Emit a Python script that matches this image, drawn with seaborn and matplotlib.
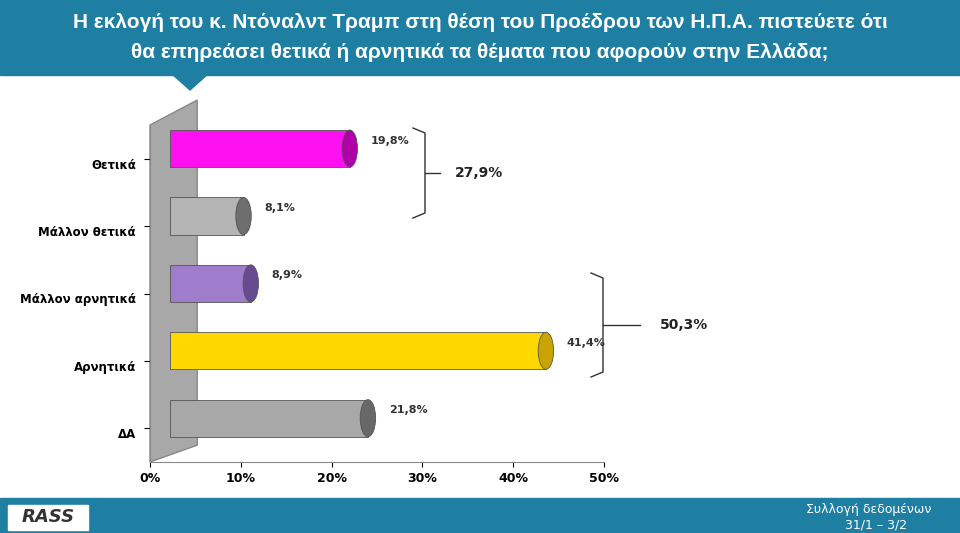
import matplotlib
matplotlib.use("Agg")
import matplotlib.pyplot as plt
import seaborn as sns
import pandas as pd
from matplotlib.patches import Polygon, Ellipse, Rectangle
from matplotlib.lines import Line2D

categories = ["Θετικά", "Μάλλον θετικά", "Μάλλον αρνητικά", "Αρνητικά", "ΔΑ"]
values = [19.8, 8.1, 8.9, 41.4, 21.8]
colors = ["#ff10f0", "#b4b4b4", "#a07ccc", "#ffd800", "#a8a8a8"]
cap_colors = ["#b000a8", "#6e6e6e", "#674a90", "#c9a400", "#686868"]
ticks = [0, 10, 20, 30, 40, 50]
tick_labels = ["0%", "10%", "20%", "30%", "40%", "50%"]
groups = [("27,9%", 0, 1), ("50,3%", 2, 3)]

W, H = 960, 533
fig = plt.figure(figsize=(9.6, 5.33), dpi=100)
fig.patch.set_facecolor("white")
TEAL = "#1f7fa3"
X0 = 2.2

def P(x, y):
    return (x / W, 1 - y / H)

fig.patches.append(Rectangle((0, 1 - 75 / H), 1, 75 / H, transform=fig.transFigure, color=TEAL, zorder=0))
fig.patches.append(Polygon([P(172, 74), P(208, 74), P(190, 90)], transform=fig.transFigure, color=TEAL))
fig.patches.append(Rectangle((0, 0), 1, 35 / H, transform=fig.transFigure, color=TEAL, zorder=0))
fig.text(0.5, 1 - 23 / H, "Η εκλογή του κ. Ντόναλντ Τραμπ στη θέση του Προέδρου των Η.Π.Α. πιστεύετε ότι",
         ha="center", va="center", color="white", fontsize=15, fontweight="bold", family="Liberation Sans")
fig.text(0.5, 1 - 52 / H, "θα επηρεάσει θετικά ή αρνητικά τα θέματα που αφορούν στην Ελλάδα;",
         ha="center", va="center", color="white", fontsize=15, fontweight="bold", family="Liberation Sans")
fig.text(0.97, 1 - 510 / H, "Συλλογή δεδομένων", ha="right", va="center", color="white", fontsize=9)
fig.text(0.945, 1 - 525 / H, "31/1 – 3/2", ha="right", va="center", color="white", fontsize=9)
fig.patches.append(Rectangle(P(8, 530), 80 / W, 25 / H, transform=fig.transFigure, color="white"))
fig.text(48 / W, 1 - 517 / H, "RASS", ha="center", va="center", color="#333333", fontsize=13,
         fontweight="bold", style="italic")

ax = fig.add_axes([150 / W, 1 - 462 / H, 454 / W, 337 / H])
ax.patch.set_alpha(0)
ax.add_patch(Polygon([(0, -0.5), (5.2, -0.87), (5.2, 4.25), (0, 4.5)], closed=True,
                     facecolor="#a8a8a8", edgecolor="#888888", zorder=0.5, clip_on=False))
df = pd.DataFrame({"cat": categories, "val": values})
sns.barplot(data=df, x="val", y="cat", hue="cat", palette=colors, legend=False, ax=ax,
            width=0.55, edgecolor="#555555", linewidth=0.6, saturation=1)
for i, p in enumerate(ax.patches[1:]):
    p.set_x(X0)
    y = p.get_y() - 0.15
    p.set_y(y)
    p.set_zorder(2)
    h = p.get_height()
    ax.add_patch(Ellipse((X0 + values[i], y + h / 2), 1.7, h, facecolor=cap_colors[i],
                         edgecolor="#555555", linewidth=0.6, zorder=3))
    ax.text(X0 + values[i] + 2.3, y + h / 2 - 0.12, f"{values[i]:.1f}%".replace(".", ","),
            fontsize=8, fontweight="bold", color="#333333", va="center")
ax.set_xlim(0, 50)
ax.set_ylim(4.5, -0.5)
ax.set_xticks(ticks)
ax.set_xticklabels(tick_labels, fontsize=9, fontweight="bold")
ax.set_yticks(range(len(categories)))
ax.set_yticklabels(categories, fontsize=8.5, fontweight="bold")
for lbl in ax.get_yticklabels():
    lbl.set_va("top")
ax.set_xlabel("")
ax.set_ylabel("")
for s in ["top", "right"]:
    ax.spines[s].set_visible(False)
ax.spines["left"].set_color("#888888")
ax.spines["bottom"].set_color("#888888")
ax.tick_params(axis="y", length=4, pad=6)

def bracket(x0, y0, y1, x2, text, tx):
    ym = (y0 + y1) / 2
    pts = [P(x0 - 12, y0), P(x0, y0 + 5), P(x0, y1 - 5), P(x0 - 12, y1)]
    xs = [p[0] for p in pts]; ys = [p[1] for p in pts]
    fig.add_artist(Line2D(xs, ys, transform=fig.transFigure, color="#333333", lw=1))
    a, b = P(x0, ym), P(x2, ym)
    fig.add_artist(Line2D([a[0], b[0]], [a[1], b[1]], transform=fig.transFigure, color="#333333", lw=1))
    fig.text(tx / W, 1 - ym / H, text, fontsize=10, fontweight="bold", va="center", color="#222222")

bracket(425, 128, 218, 440, groups[0][0], 455)
bracket(603, 273, 377, 640, groups[1][0], 660)

fig.savefig("out.png", dpi=100)
